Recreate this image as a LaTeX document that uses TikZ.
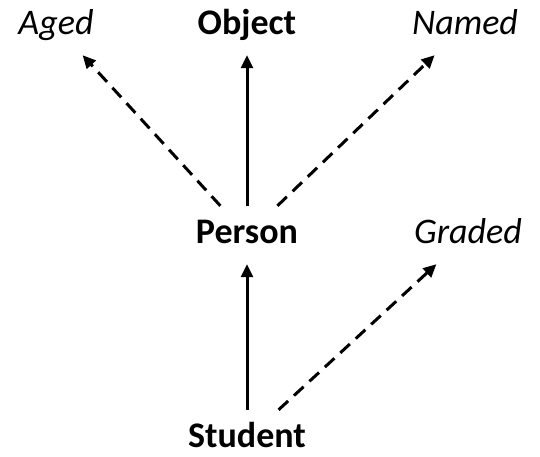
\documentclass[tikz,border=0pt]{standalone}
\usepackage{fontspec}
\setmainfont{Carlito}
\usepackage{tikz}
\usetikzlibrary{arrows.meta}

\begin{document}
\begin{tikzpicture}[x=1pt,y=-1pt,
  cls/.style={inner xsep=2pt,inner ysep=12pt,text height=25pt,text depth=9pt,anchor=base,font=\fontsize{36}{42}\selectfont\bfseries},
  iface/.style={cls,font=\fontsize{36}{42}\selectfont\itshape},
  arr/.style={-{Triangle[length=13pt,width=12pt]},line width=3pt},
  darr/.style={arr,dash pattern=on 13pt off 8pt}
]
\useasboundingbox (0,0) rectangle (540,456);

% Types
\node[iface] (aged)    at (56,34)   {Aged};
\node[cls]   (object)  at (247,34)  {Object};
\node[iface] (named)   at (465,34)  {Named};
\node[cls]   (person)  at (247,243) {Person};
\node[iface] (graded)  at (468,243) {Graded};
\node[cls]   (student) at (247,447) {Student};

% Arrows
\draw[arr]  (person)  -- (object);
\draw[darr] (person)  -- (aged);
\draw[darr] (person)  -- (named);
\draw[arr]  (student) -- (person);
\draw[darr] (student) -- (graded);

\end{tikzpicture}
\end{document}
